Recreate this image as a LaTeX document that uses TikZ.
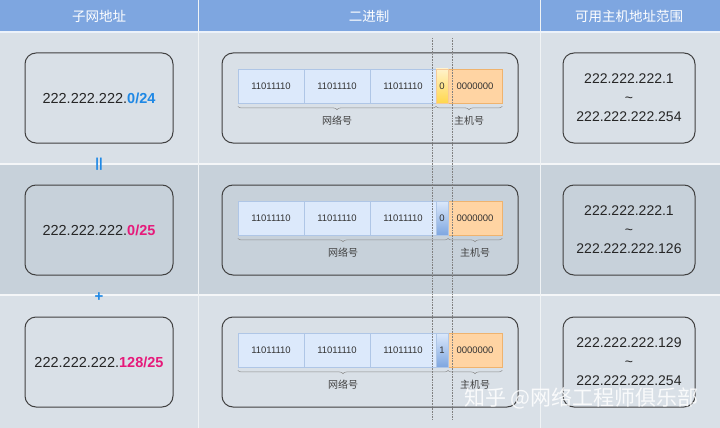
\documentclass[tikz,border=0pt]{standalone}
\usepackage{fontspec}
\setmainfont{Liberation Sans}
\newfontfamily\cjk{Noto Sans CJK SC}
\usetikzlibrary{decorations.pathreplacing}
\definecolor{headblue}{HTML}{7EA6E0}
\definecolor{rowlight}{HTML}{D9E0E7}
\definecolor{rowdark}{HTML}{C7D1DA}
\definecolor{boxline}{HTML}{404040}
\definecolor{cellblue}{HTML}{DCE9FB}
\definecolor{celledge}{HTML}{AFC6E6}
\definecolor{cellorange}{HTML}{FFD4A3}
\definecolor{orangeedge}{HTML}{EFB36E}
\definecolor{maskblue}{HTML}{1E88E5}
\definecolor{maskpink}{HTML}{E6197A}
\tikzset{
  panel/.style={draw=boxline,line width=1pt,rounded corners=11pt},
  bytecell/.style={draw=celledge,fill=cellblue,minimum width=66pt,minimum height=34pt,
    inner sep=0pt,font=\fontsize{9.5}{10}\selectfont,text=black!80},
  hostcell/.style={bytecell,draw=orangeedge,fill=cellorange,minimum width=54pt},
  bitcell/.style={bytecell,minimum width=12pt},
  netbrace/.style={draw=black!45,line width=0.5pt,decorate,
    decoration={brace,mirror,amplitude=3.5pt}},
  partlabel/.style={font=\cjk\fontsize{10}{12}\selectfont,text=black!75},
  headtext/.style={font=\cjk\fontsize{13.5}{15}\selectfont,text=white},
  addrtext/.style={font=\fontsize{14.5}{16}\selectfont,text=black!85},
}
\begin{document}
\begin{tikzpicture}[x=1pt,y=-1pt]
  \useasboundingbox (0,0) rectangle (720,428);
  % rows and header
  \fill[rowlight] (0,32) rectangle (720,164);
  \fill[rowdark] (0,164) rectangle (720,295);
  \fill[rowlight] (0,295) rectangle (720,428);
  \fill[headblue] (0,0) rectangle (720,32);
  \draw[white!85!headblue,line width=1.5pt] (0,32) -- (720,32);
  \draw[white!70!rowlight,line width=1.5pt] (0,164) -- (720,164);
  \draw[white!70!rowlight,line width=1.5pt] (0,295) -- (720,295);
  \foreach \x in {198,540}
    \draw[white!60!rowlight,line width=0.8pt] (\x,0) -- (\x,428);
  \node[headtext] (h1) at (99,16) {子网地址};
  \node[headtext] (h2) at (369,16) {二进制};
  \node[headtext] (h3) at (629,16) {可用主机地址范围};

  % one row per subnet
  \foreach \r/\yc/\mask/\mcol/\lo/\hi in {
      1/98/0{/}24/maskblue/1/254,
      2/230/0{/}25/maskpink/1/126,
      3/362/128{/}25/maskpink/129/254}{
    \draw[panel] (25,\yc-45) rectangle (173,\yc+45);
    \node[addrtext] (addr\r) at (99,\yc) {222.222.222.\textcolor{\mcol}{\textbf{\mask}}};
    \draw[panel] (222,\yc-45) rectangle (518,\yc+45);
    \node[bytecell] (b\r-1) at (271,\yc-12) {11011110};
    \node[bytecell] (b\r-2) at (337,\yc-12) {11011110};
    \node[bytecell] (b\r-3) at (403,\yc-12) {11011110};
    \node[hostcell] (host\r) at (475,\yc-12) {0000000};
    \draw[panel] (563,\yc-45) rectangle (695,\yc+45);
    \node[addrtext,align=center,font=\fontsize{14}{19}\selectfont] (range\r) at (629,\yc)
      {222.222.222.\lo\\\textasciitilde\\222.222.222.\hi};
  }
  % the borrowed bit
  \node[bitcell,draw=orangeedge!70,top color=yellow!25!cellorange!40!white,
    bottom color=orange!45!yellow!70] (bit1) at (442,86) {0};
  \node[bitcell,draw=celledge,top color=cellblue,bottom color=headblue] (bit2) at (442,218) {0};
  \node[bitcell,draw=celledge,top color=cellblue,bottom color=headblue] (bit3) at (442,350) {1};

  % braces
  \draw[netbrace] ([yshift=-3pt]b1-1.south west) -- ([yshift=-3pt]b1-3.south east)
    node[partlabel,midway,below=6pt] (net1) {网络号};
  \draw[netbrace] ([yshift=-3pt]bit1.south west) -- ([yshift=-3pt]host1.south east)
    node[partlabel,midway,below=6pt] (hl1) {主机号};
  \foreach \r in {2,3}{
    \draw[netbrace] ([yshift=-3pt]b\r-1.south west) -- ([yshift=-3pt]bit\r.south east)
      node[partlabel,midway,below=6pt] (net\r) {网络号};
    \draw[netbrace] ([yshift=-3pt]host\r.south west) -- ([yshift=-3pt]host\r.south east)
      node[partlabel,midway,below=6pt] (hl\r) {主机号};
  }

  % dotted guides
  \foreach \x in {432,452.5}
    \draw[black!50,densely dotted,line width=0.6pt] (\x,38) -- (\x,420);

  % relations between rows
  \node[text=maskblue,font=\bfseries\fontsize{13}{13}\selectfont] (eq) at (99,164) {||};
  \node[text=maskblue,font=\bfseries\fontsize{15}{15}\selectfont] (plus) at (99,297.5) {+};

  % watermark
  \node[anchor=west,text=white,opacity=0.85,font=\cjk\fontsize{21}{22}\selectfont,inner sep=0pt]
    (mark) at (464,398) {知乎 @网络工程师俱乐部};
\end{tikzpicture}
\end{document}
